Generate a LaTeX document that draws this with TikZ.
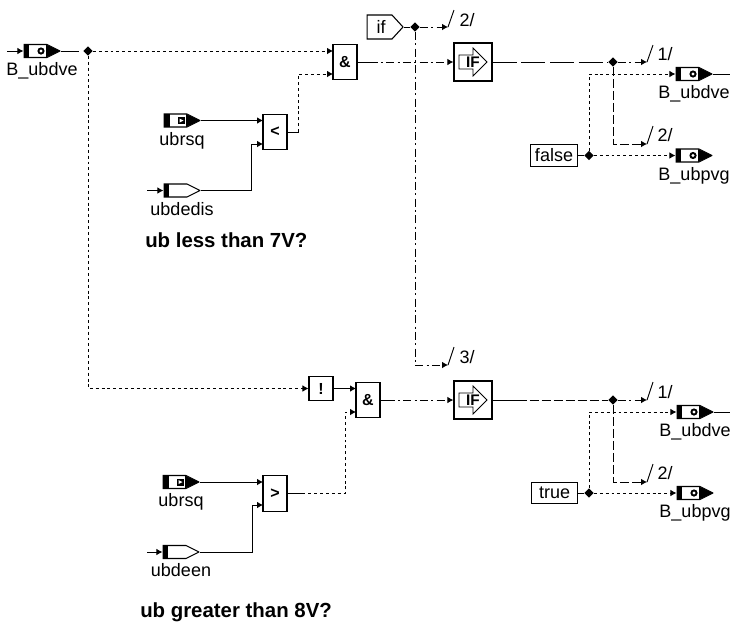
\documentclass[tikz,border=0pt]{standalone}
\usepackage{fontspec}
\setmainfont{Liberation Sans}
\usetikzlibrary{arrows.meta,positioning,shapes.geometric}
\tikzset{
    msgbase/.style={minimum width=27.5pt, minimum height=11pt, inner sep=0pt},
    msgsend/.style={msgbase, path picture={
        \begin{scope}[shift={(path picture bounding box.center)}]
            \draw[line width=0.8pt, fill=white] (-18,-6.5) -- (5,-6.5) -- (18,0) -- (5,6.5) -- (-18,6.5) -- cycle;
            \fill (-18,-6.5) rectangle (-13,6.5);
            \fill (4,-6.5) -- (18,0) -- (4,6.5) -- cycle;
            \fill (-1,0) circle (3.6);
            \fill[white] (-1,0) circle (1.6);
        \end{scope}}},
    msgrecv/.style={msgbase, path picture={
        \begin{scope}[shift={(path picture bounding box.center)}]
            \draw[line width=0.8pt, fill=white] (-18,-6.5) -- (5,-6.5) -- (18,0) -- (5,6.5) -- (-18,6.5) -- cycle;
            \fill (-18,-6.5) rectangle (-12,6.5);
            \fill (4,-6.5) -- (18,0) -- (4,6.5) -- cycle;
            \fill (-4,-3.5) rectangle (3,3.5);
            \fill[white] (-2.5,-2) -- (1.5,0) -- (-2.5,2) -- cycle;
        \end{scope}}},
    msgplain/.style={msgbase, path picture={
        \begin{scope}[shift={(path picture bounding box.center)}]
            \draw[line width=0.8pt, fill=white] (-18,-6.5) -- (5,-6.5) -- (18,0) -- (5,6.5) -- (-18,6.5) -- cycle;
            \fill (-18,-6.5) rectangle (-13,6.5);
        \end{scope}}},
    opblk/.style={draw, line width=0.8pt, minimum width=18pt, minimum height=26.5pt, inner sep=0pt,
        font=\fontsize{12}{13}\selectfont\bfseries},
    notblk/.style={opblk, minimum height=17.5pt},
    iftxt/.style={inner sep=0pt, font=\fontsize{11.5}{13}\selectfont\bfseries},
    ifblk/.style={draw, line width=1pt, minimum width=28.5pt, minimum height=28.5pt, inner sep=0pt,
        label={[iftxt]center:IF}, path picture={
        \begin{scope}[shift={(path picture bounding box.center)}]
            \draw[line width=0.6pt] (-14,-7) -- (0,-7) -- (0,-14) -- (14,0) -- (0,14) -- (0,7) -- (-14,7) -- cycle;
        \end{scope}}},
    constblk/.style={draw, line width=0.8pt, minimum width=35pt, minimum height=16pt, inner sep=0pt},
    iftag/.style={minimum width=27.5pt, minimum height=18.5pt, inner sep=0pt,
        label={[inner sep=0pt, xshift=-3pt]center:if}, path picture={
        \begin{scope}[shift={(path picture bounding box.center)}]
            \draw[line width=0.8pt] (-18,-12) -- (7,-12) -- (18,0) -- (7,12) -- (-18,12) -- cycle;
        \end{scope}}},
    jct/.style={diamond, fill=black, minimum size=7pt, inner sep=0pt},
    lbl/.style={inner sep=0pt},
    note/.style={inner sep=0pt, font=\fontsize{15.3}{16}\selectfont\bfseries},
    line/.style={-{Latex[length=4.5pt,width=5pt]}, line width=0.7pt},
    plain/.style={line width=0.7pt},
    dotline/.style={line, dash pattern=on 2.2pt off 2.2pt},
    dashdot/.style={line, dash pattern=on 6pt off 2.5pt on 1.5pt off 2.5pt},
    longdash/.style={plain, dash pattern=on 18pt off 3.5pt},
    meddash/.style={line, dash pattern=on 7pt off 2pt},
    medplain/.style={plain, dash pattern=on 7pt off 2pt}
}
\begin{document}
\begin{tikzpicture}[x=0.75pt, y=-0.75pt, font=\fontsize{13.5}{14}\selectfont]
    \useasboundingbox (0,0) rectangle (734,626);
    \node[msgsend] (bin) at (42,51) {};
    \node[lbl, below=3pt of bin] (binlbl) {B\_ubdve};
    \node[jct] (jin) at (88,51) {};
    \coordinate (binstub) at (7,51);
    \node[msgrecv] (rsqa) at (182,120.5) {};
    \node[lbl, below=3pt of rsqa] (rsqalbl) {ubrsq};
    \node[msgplain] (dis) at (182,190.5) {};
    \coordinate (disstub) at (147,190.5);
    \node[lbl, below=3pt of dis] (dislbl) {ubdedis};
    \node[opblk] (lt) at (275,132) {<};
    \coordinate (ltup) at (263,120.5);
    \coordinate (ltlo) at (263,144);
    \node[opblk] (anda) at (345,62) {\&};
    \coordinate (andaup) at (333,51);
    \coordinate (andalo) at (333,74);
    \node[note, anchor=west] (lessnote) at (145,240) {ub less than 7V?};
    \node[iftag] (ifin) at (385,27) {};
    \node[jct] (jif) at (415,27) {};
    \node[ifblk] (ifa) at (473,62) {};
    \node[jct] (ja) at (613,62) {};
    \node[constblk] (fls) at (554,155.5) {false};
    \node[jct] (jfls) at (589,155.5) {};
    \node[msgsend] (oa) at (694,74) {};
    \node[lbl, below=3pt of oa] (oalbl) {B\_ubdve};
    \node[msgsend] (pa) at (694,155.5) {};
    \node[lbl, below=3pt of pa] (palbl) {B\_ubpvg};
    \coordinate (oastub) at (730,74);
    \coordinate (ea) at (647,62);
    \coordinate (eb) at (647,144);
    \coordinate (ec) at (448,27);
    \coordinate (ed) at (448,365);
    \node[lbl] (ta) at (665,54) {1/};
    \node[lbl] (tb) at (665,135) {2/};
    \node[lbl] (tc) at (467,20) {2/};
    \node[lbl] (td) at (467,357) {3/};
    \node[notblk] (nt) at (321,388.5) {!};
    \node[opblk] (andb) at (368,400) {\&};
    \coordinate (andbup) at (356,388.5);
    \coordinate (andblo) at (356,412);
    \node[ifblk] (ifb) at (473,400) {};
    \node[jct] (jb) at (613,400) {};
    \node[constblk] (tru) at (554.5,493) {true};
    \node[jct] (jtru) at (589,493) {};
    \node[msgsend] (ob) at (695,412) {};
    \node[lbl, below=3pt of ob] (oblbl) {B\_ubdve};
    \node[msgsend] (pb) at (695,493) {};
    \node[lbl, below=3pt of pb] (pblbl) {B\_ubpvg};
    \coordinate (obstub) at (730,412);
    \coordinate (ee) at (647,400);
    \coordinate (ef) at (647,482);
    \node[lbl] (te) at (665,392) {1/};
    \node[lbl] (tf) at (665,473) {2/};
    \node[msgrecv] (rsqb) at (181,482) {};
    \node[lbl, below=3pt of rsqb] (rsqblbl) {ubrsq};
    \node[msgplain] (een) at (181,552) {};
    \coordinate (eenstub) at (147,552);
    \node[lbl, below=3pt of een] (eenlbl) {ubdeen};
    \node[opblk] (gt) at (275,493.5) {>};
    \coordinate (gtup) at (263,482);
    \coordinate (gtlo) at (263,505);
    \node[note, anchor=west] (morenote) at (140,612) {ub greater than 8V?};

    \draw[line] (binstub) -- (bin);
    \draw[plain] (bin.east) -- ++(18,0);
    \draw[dotline] (jin) -- (andaup);
    \draw[dotline] (jin) |- (nt);
    \draw[line] (rsqa) -- (ltup);
    \draw[line] (disstub) -- (dis);
    \draw[line] (dis) -| ([xshift=-9pt]ltlo) -- (ltlo);
    \draw[plain] (lt.east) -- ++(11,0) coordinate (ltout);
    \draw[dotline] (ltout) |- (andalo);
    \draw[plain] (anda.east) -- ++(12,0) coordinate (andaout);
    \draw[dashdot] (andaout) -- (ifa);
    \draw[plain] (ifin.east) -- (jif);
    \draw[dashdot] (jif) -- (ec);
    \draw[plain] (ec) -- ++(6,-17);
    \draw[dashdot] (jif) |- (ed);
    \draw[plain] (ed) -- ++(6,-18);
    \draw[longdash] (ifa) -- (ja);
    \draw[dashdot] (ja) -- (ea);
    \draw[plain] (ea) -- ++(6,-17);
    \draw[meddash] (ja) |- (eb);
    \draw[plain] (eb) -- ++(6,-18);
    \draw[plain] (fls) -- (jfls);
    \draw[dotline] (jfls) -- (pa);
    \draw[dotline] (jfls) |- (oa);
    \draw[plain] (oa) -- (oastub);
    \draw[line] (nt) -- (andbup);
    \draw[plain] (andb.east) -- ++(6,0) coordinate (andbout);
    \draw[dashdot] (andbout) -- (ifb);
    \draw[plain] (ifb.east) -- ++(25,0) coordinate (ifbout);
    \draw[medplain] (ifbout) -- (jb);
    \draw[dashdot] (jb) -- (ee);
    \draw[plain] (ee) -- ++(6,-18);
    \draw[meddash] (jb) |- (ef);
    \draw[plain] (ef) -- ++(6,-18);
    \draw[plain] (tru) -- (jtru);
    \draw[dotline] (jtru) -- (pb);
    \draw[dotline] (jtru) |- (ob);
    \draw[plain] (ob) -- (obstub);
    \draw[line] (rsqb) -- (gtup);
    \draw[line] (eenstub) -- (een);
    \draw[line] (een) -| ([xshift=-8pt]gtlo) -- (gtlo);
    \draw[plain] (gt.east) -- ++(15,0) coordinate (gtout);
    \draw[dotline] (gtout) -| ([xshift=-8pt]andblo) -- (andblo);
\end{tikzpicture}
\end{document}
